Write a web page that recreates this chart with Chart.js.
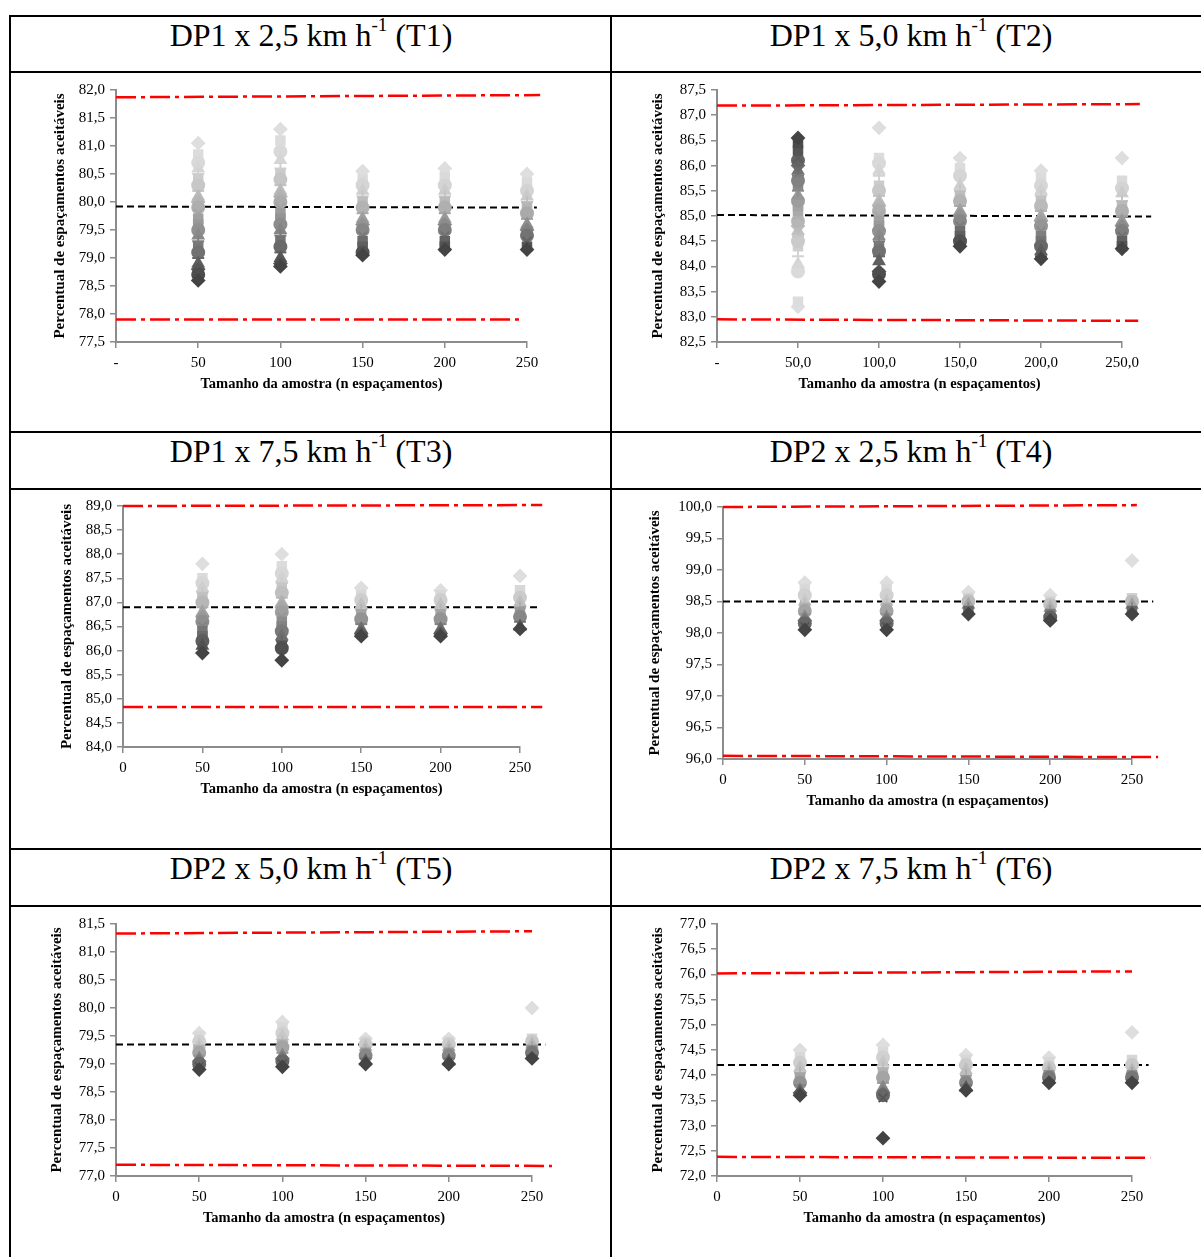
<!DOCTYPE html>
<html>
<head>
<meta charset="utf-8">
<script src="https://cdn.jsdelivr.net/npm/chart.js@4.4.1/dist/chart.umd.min.js"></script>
<style>
  html, body { margin: 0; padding: 0; background: #fff; }
  body { width: 1201px; height: 1257px; position: relative; overflow: hidden; }
  .hline { position: absolute; left: 10px; width: 1200px; height: 2px; background: #000; }
  .vline { position: absolute; top: 15px; width: 2px; height: 1250px; background: #000; }
  .head { position: absolute; width: 600px; text-align: center;
          font-family: "Liberation Serif", "Times New Roman", serif; font-size: 32px; color: #000; }
  .head sup { font-size: 60%; vertical-align: 0; position: relative; top: -0.8em; }
  canvas { position: absolute; }
</style>
</head>
<body>
<div class="hline" style="top:15px"></div>
<div class="hline" style="top:71px"></div>
<div class="hline" style="top:431px"></div>
<div class="hline" style="top:488px"></div>
<div class="hline" style="top:848px"></div>
<div class="hline" style="top:905px"></div>
<div class="vline" style="left:9px"></div>
<div class="vline" style="left:610px"></div>

<div class="head" style="left:11px;top:17px">DP1 x 2,5 km h<sup>-1</sup> (T1)</div>
<div class="head" style="left:611px;top:17px">DP1 x 5,0 km h<sup>-1</sup> (T2)</div>
<div class="head" style="left:11px;top:433px">DP1 x 7,5 km h<sup>-1</sup> (T3)</div>
<div class="head" style="left:611px;top:433px">DP2 x 2,5 km h<sup>-1</sup> (T4)</div>
<div class="head" style="left:11px;top:850px">DP2 x 5,0 km h<sup>-1</sup> (T5)</div>
<div class="head" style="left:611px;top:850px">DP2 x 7,5 km h<sup>-1</sup> (T6)</div>

<canvas id="t1"></canvas>
<canvas id="t2"></canvas>
<canvas id="t3"></canvas>
<canvas id="t4"></canvas>
<canvas id="t5"></canvas>
<canvas id="t6"></canvas>

<script>
// sample sizes (x positions of the point columns)
var sampleSizes = [50, 100, 150, 200, 250];

// each panel: one list per sample size, from lightest marker to darkest marker
var t1Points = [
    [81.05, 80.85, 80.7, 80.6, 80.5, 80.4, 80.3, 80.2, 80.1, 80.0, 79.9, 79.8, 79.7, 79.6, 79.5, 79.4, 79.3, 79.2, 79.1, 79.0, 78.9, 78.8, 78.7, 78.6],
    [81.3, 81.1, 80.9, 80.75, 80.6, 80.5, 80.4, 80.3, 80.2, 80.1, 80.0, 79.9, 79.8, 79.7, 79.6, 79.5, 79.4, 79.3, 79.2, 79.1, 79.0, 78.9, 78.85],
    [80.55, 80.4, 80.3, 80.2, 80.1, 80.0, 79.9, 79.8, 79.7, 79.6, 79.5, 79.4, 79.3, 79.2, 79.1, 79.05],
    [80.6, 80.45, 80.3, 80.2, 80.1, 80.0, 79.9, 79.8, 79.7, 79.6, 79.5, 79.4, 79.3, 79.2, 79.15],
    [80.5, 80.35, 80.2, 80.1, 80.0, 79.9, 79.8, 79.7, 79.6, 79.5, 79.4, 79.3, 79.2, 79.15]
];
var t2Points = [
    [83.2, 83.3, 83.9, 84.05, 84.2, 84.4, 84.5, 84.6, 84.7, 84.8, 84.9, 85.0, 85.1, 85.2, 85.3, 85.4, 85.5, 85.6, 85.7, 85.8, 85.9, 86.0, 86.1, 86.15, 86.3, 86.45, 86.55],
    [86.75, 86.15, 86.05, 85.9, 85.8, 85.6, 85.5, 85.4, 85.3, 85.2, 85.1, 85.0, 84.9, 84.8, 84.7, 84.6, 84.5, 84.4, 84.3, 84.2, 84.1, 83.9, 83.85, 83.7],
    [86.15, 85.95, 85.8, 85.6, 85.5, 85.4, 85.3, 85.2, 85.1, 85.0, 84.9, 84.8, 84.7, 84.6, 84.5, 84.4],
    [85.9, 85.75, 85.6, 85.5, 85.4, 85.3, 85.2, 85.1, 85.0, 84.9, 84.8, 84.7, 84.6, 84.5, 84.4, 84.3, 84.2, 84.15],
    [86.15, 85.7, 85.55, 85.45, 85.3, 85.2, 85.1, 85.0, 84.9, 84.8, 84.7, 84.6, 84.5, 84.4, 84.35]
];
var t3Points = [
    [87.8, 87.5, 87.4, 87.3, 87.2, 87.1, 87.0, 86.9, 86.8, 86.7, 86.6, 86.5, 86.4, 86.3, 86.2, 86.1, 85.95],
    [88.0, 87.75, 87.6, 87.5, 87.4, 87.3, 87.2, 87.1, 87.0, 86.9, 86.8, 86.7, 86.6, 86.5, 86.4, 86.3, 86.2, 86.1, 86.05, 85.8],
    [87.3, 87.15, 87.05, 86.95, 86.85, 86.75, 86.65, 86.55, 86.45, 86.35, 86.3],
    [87.25, 87.15, 87.05, 86.95, 86.85, 86.75, 86.65, 86.55, 86.45, 86.35, 86.3],
    [87.55, 87.25, 87.1, 87.0, 86.9, 86.8, 86.7, 86.6, 86.5, 86.45]
];
var t4Points = [
    [98.8, 98.7, 98.6, 98.5, 98.45, 98.4, 98.35, 98.3, 98.25, 98.2, 98.15, 98.1, 98.05],
    [98.8, 98.7, 98.6, 98.5, 98.45, 98.4, 98.35, 98.3, 98.25, 98.2, 98.15, 98.1, 98.05],
    [98.65, 98.55, 98.5, 98.45, 98.4, 98.35, 98.3],
    [98.6, 98.5, 98.45, 98.4, 98.35, 98.3, 98.25, 98.2],
    [99.15, 98.55, 98.5, 98.45, 98.4, 98.35, 98.3]
];
var t5Points = [
    [79.55, 79.5, 79.4, 79.35, 79.3, 79.25, 79.2, 79.15, 79.1, 79.05, 79.0, 78.95, 78.9],
    [79.75, 79.65, 79.55, 79.5, 79.4, 79.35, 79.3, 79.2, 79.15, 79.1, 79.05, 79.0, 78.95],
    [79.45, 79.4, 79.35, 79.3, 79.25, 79.2, 79.15, 79.1, 79.05, 79.0],
    [79.45, 79.4, 79.35, 79.3, 79.25, 79.2, 79.15, 79.1, 79.05, 79.0],
    [80.0, 79.45, 79.4, 79.35, 79.3, 79.25, 79.2, 79.15, 79.1]
];
var t6Points = [
    [74.5, 74.35, 74.25, 74.15, 74.05, 73.95, 73.85, 73.8, 73.7, 73.65, 73.6],
    [74.6, 74.45, 74.35, 74.25, 74.15, 74.05, 73.95, 73.85, 73.75, 73.65, 73.6, 73.55, 72.75],
    [74.4, 74.3, 74.2, 74.1, 74.0, 73.9, 73.85, 73.8, 73.75, 73.7],
    [74.35, 74.25, 74.15, 74.1, 74.05, 74.0, 73.95, 73.9, 73.85],
    [74.85, 74.3, 74.2, 74.1, 74.05, 74.0, 73.95, 73.9, 73.85]
];

// control limits (red) and mean (black), as [x, y] start and end
var t1Upper = [[0, 81.87], [258, 81.91]], t1Lower = [[0, 77.9], [248, 77.9]], t1Mean = [[0, 79.92], [256, 79.9]];
var t2Upper = [[0, 87.19], [261, 87.22]], t2Lower = [[0, 82.95], [260, 82.92]], t2Mean = [[0, 85.02], [268, 84.99]];
var t3Upper = [[0, 89.0], [264, 89.02]], t3Lower = [[0, 84.83], [264, 84.83]], t3Mean = [[0, 86.9], [261, 86.9]];
var t4Upper = [[0, 100.0], [253, 100.03]], t4Lower = [[0, 96.05], [266, 96.03]], t4Mean = [[0, 98.5], [263, 98.5]];
var t5Upper = [[0, 81.33], [250, 81.37]], t5Lower = [[0, 77.2], [262, 77.18]], t5Mean = [[0, 79.35], [258, 79.35]];
var t6Upper = [[0, 76.02], [250, 76.06]], t6Lower = [[0, 72.38], [261, 72.36]], t6Mean = [[0, 74.2], [260, 74.2]];

// y ranges of each panel
var t1Range = [77.5, 82.0], t2Range = [82.5, 87.5], t3Range = [84.0, 89.0];
var t4Range = [96.0, 100.0], t5Range = [77.0, 81.5], t6Range = [72.0, 77.0];


Chart.defaults.font.family = '"Liberation Serif", "Times New Roman", serif';
Chart.defaults.color = '#000';

// marker cycle, mostly filled shapes like the excel defaults
var shapes = ['rect', 'circle', 'triangle', 'cross', 'rect', 'circle', 'line', 'triangle', 'rectRot', 'circle', 'crossRot', 'rect'];

function grayOf(i, n) {
    var t = n > 1 ? i / (n - 1) : 0;
    var v = Math.round(222 - Math.pow(t, 1.4) * (222 - 68));
    return 'rgb(' + v + ',' + v + ',' + v + ')';
}

function shapeOf(i, n) {
    if (i === 0 || i === n - 1) return 'rectRot';
    return shapes[(i - 1) % shapes.length];
}

function comma(v, d) {
    return v.toFixed(d).replace('.', ',');
}

function drawPanel(p) {
    var yW = p.yTitleOff + 10;
    var padL = 6, padT = 14, padR = 50, xH = 56;
    var w = (p.area[2] - p.area[0]) + yW + padL + padR;
    var h = (p.area[3] - p.area[1]) + padT + xH;
    var cv = document.getElementById(p.id);
    cv.width = w; cv.height = h;
    cv.style.left = (p.area[0] - yW - padL) + 'px';
    cv.style.top = (p.area[1] - padT) + 'px';

    var datasets = [];
    p.points.forEach(function (col, j) {
        var n = col.length;
        datasets.push({
            data: col.map(function (v) { return { x: sampleSizes[j], y: v }; }),
            pointStyle: col.map(function (v, i) { return shapeOf(i, n); }),
            pointBackgroundColor: col.map(function (v, i) { return grayOf(i, n); }),
            pointBorderColor: col.map(function (v, i) { return grayOf(i, n); }),
            pointBorderWidth: 2,
            pointRadius: 6,
            showLine: false,
            clip: false
        });
    });
    [[p.upper, '#ff0000', [20, 5, 4, 5], 2.5], [p.lower, '#ff0000', [20, 5, 4, 5], 2.5], [p.mean, '#000', [7, 4], 2]].forEach(function (l) {
        datasets.push({
            data: l[0].map(function (q) { return { x: q[0], y: q[1] }; }),
            showLine: true,
            borderColor: l[1],
            borderDash: l[2],
            borderWidth: l[3],
            pointRadius: 0,
            clip: false
        });
    });

    new Chart(cv, {
        type: 'scatter',
        data: { datasets: datasets },
        options: {
            responsive: false,
            animation: false,
            layout: { padding: { left: padL, top: padT, right: padR, bottom: 0 } },
            plugins: { legend: { display: false }, tooltip: { enabled: false } },
            scales: {
                x: {
                    type: 'linear', min: 0, max: 250,
                    afterFit: function (s) { s.height = xH; },
                    ticks: {
                        stepSize: 50, padding: 6, font: { size: 15 },
                        maxRotation: 0,
                        callback: function (v) {
                            if (v === 0 && p.xFmt !== 'int') return '-';
                            return p.xFmt === 'dec' ? comma(v, 1) : String(v);
                        }
                    },
                    grid: { drawOnChartArea: false, tickLength: 6, color: '#8c8c8c', lineWidth: 1.5 },
                    border: { color: '#8c8c8c', width: 2 },
                    title: { display: true, text: 'Tamanho da amostra (n espaçamentos)', font: { size: 14.5, weight: 'bold' }, padding: { top: 2, bottom: 5 } }
                },
                y: {
                    min: p.range[0], max: p.range[1],
                    afterFit: function (s) { s.width = yW; },
                    ticks: {
                        stepSize: 0.5, padding: 5, font: { size: 15 },
                        callback: function (v) { return comma(v, 1); }
                    },
                    grid: { drawOnChartArea: false, tickLength: 6, color: '#8c8c8c', lineWidth: 1.5 },
                    border: { color: '#8c8c8c', width: 2 },
                    title: { display: true, text: 'Percentual de espaçamentos aceitáveis', font: { size: 15, weight: 'bold' }, padding: 1 }
                }
            }
        }
    });
}

var panels = [
    { id: 't1', points: t1Points, upper: t1Upper, lower: t1Lower, mean: t1Mean, range: t1Range, xFmt: 'dash', area: [116, 90, 527, 342], yTitleOff: 56 },
    { id: 't2', points: t2Points, upper: t2Upper, lower: t2Lower, mean: t2Mean, range: t2Range, xFmt: 'dec', area: [717, 90, 1122, 342], yTitleOff: 59 },
    { id: 't3', points: t3Points, upper: t3Upper, lower: t3Lower, mean: t3Mean, range: t3Range, xFmt: 'int', area: [123, 506, 520, 747], yTitleOff: 56 },
    { id: 't4', points: t4Points, upper: t4Upper, lower: t4Lower, mean: t4Mean, range: t4Range, xFmt: 'int', area: [723, 507, 1132, 759], yTitleOff: 68 },
    { id: 't5', points: t5Points, upper: t5Upper, lower: t5Lower, mean: t5Mean, range: t5Range, xFmt: 'int', area: [116, 924, 532, 1176], yTitleOff: 59 },
    { id: 't6', points: t6Points, upper: t6Upper, lower: t6Lower, mean: t6Mean, range: t6Range, xFmt: 'int', area: [717, 924, 1132, 1176], yTitleOff: 59 }
];

panels.forEach(drawPanel);
</script>
</body>
</html>
